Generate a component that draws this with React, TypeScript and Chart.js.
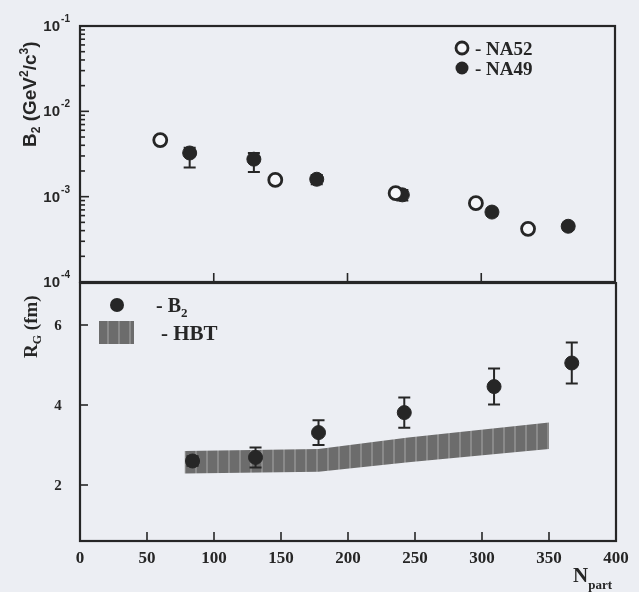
import React, { useEffect, useRef } from 'react';
import { Chart, registerables } from 'chart.js';

Chart.register(...registerables);

// ---------------- Data ----------------
// Top panel: B2 vs N_part (log scale)
const na52N = [60, 146, 236, 296, 335];
const na52B2 = [4.6e-3, 1.57e-3, 1.1e-3, 8.4e-4, 4.2e-4];
const na52ErrLow = [0.45e-3, 0.15e-3, 0.1e-3, 0.08e-3, 0.04e-3];
const na52ErrHigh = [0.45e-3, 0.15e-3, 0.1e-3, 0.08e-3, 0.04e-3];

const na49N = [82, 130, 177, 241, 308, 365];
const na49B2 = [3.25e-3, 2.75e-3, 1.6e-3, 1.05e-3, 6.6e-4, 4.5e-4];
const na49ErrLow = [1.05e-3, 0.8e-3, 0.2e-3, 0.15e-3, 0.06e-3, 0.04e-3];
const na49ErrHigh = [0.5e-3, 0.5e-3, 0.2e-3, 0.15e-3, 0.06e-3, 0.04e-3];

// Bottom panel: R_G vs N_part
const rgN = [84, 131, 178, 242, 309, 367];
const rgVal = [2.6, 2.69, 3.31, 3.81, 4.46, 5.05];
const rgErr = [0.12, 0.25, 0.31, 0.38, 0.45, 0.51];

const hbtN = [78, 178, 245, 350];
const hbtLow = [2.29, 2.33, 2.57, 2.9];
const hbtHigh = [2.85, 2.9, 3.19, 3.56];

// Axis ticks
const topYTicks = [1e-4, 1e-3, 1e-2, 1e-1];
const topXTicks = [100, 200, 300];
const bottomYTicks = [2, 4, 6];
const bottomXTicks = [0, 50, 100, 150, 200, 250, 300, 350, 400];

// ---------------- Style ----------------
const SERIF = '"Liberation Serif", "Times New Roman", serif';
const SANS = '"Liberation Sans", Arial, sans-serif';
const INK = '#262626';
const BG = '#eceef3';

type Part = { t: string; size: number; dy?: number; font?: string; bold?: boolean };

function drawRich(ctx: CanvasRenderingContext2D, x: number, y: number, parts: Part[], align: 'left' | 'right' | 'center' = 'left') {
  ctx.save();
  ctx.textBaseline = 'alphabetic';
  ctx.textAlign = 'left';
  const fontOf = (p: Part) => `${p.bold === false ? '' : 'bold '}${p.size}px ${p.font || SERIF}`;
  const ws = parts.map((p) => {
    ctx.font = fontOf(p);
    return ctx.measureText(p.t).width;
  });
  const total = ws.reduce((a, b) => a + b, 0);
  let cx = align === 'left' ? x : align === 'right' ? x - total : x - total / 2;
  parts.forEach((p, i) => {
    ctx.font = fontOf(p);
    ctx.fillText(p.t, cx, y + (p.dy || 0));
    cx += ws[i];
  });
  ctx.restore();
}

const errorBarPlugin = {
  id: 'errorBars',
  beforeDatasetsDraw(chart: any) {
    const { ctx } = chart;
    const xs = chart.scales.x;
    const ys = chart.scales.y;
    chart.data.datasets.forEach((ds: any) => {
      if (!ds.errLow) return;
      ctx.save();
      ctx.strokeStyle = INK;
      ctx.lineWidth = 2;
      ds.data.forEach((p: any, j: number) => {
        const px = xs.getPixelForValue(p.x);
        const yLo = ys.getPixelForValue(p.y - ds.errLow[j]);
        const yHi = ys.getPixelForValue(p.y + ds.errHigh[j]);
        ctx.beginPath();
        ctx.moveTo(px, yLo);
        ctx.lineTo(px, yHi);
        ctx.moveTo(px - 6, yLo);
        ctx.lineTo(px + 6, yLo);
        ctx.moveTo(px - 6, yHi);
        ctx.lineTo(px + 6, yHi);
        ctx.stroke();
      });
      ctx.restore();
    });
  },
};

function makeHatch(ctx: CanvasRenderingContext2D) {
  const c = document.createElement('canvas');
  c.width = 11;
  c.height = 4;
  const g = c.getContext('2d')!;
  g.fillStyle = '#6c6c6c';
  g.fillRect(0, 0, 11, 4);
  g.fillStyle = '#8a8a8a';
  g.fillRect(8, 0, 2, 4);
  return ctx.createPattern(c, 'repeat')!;
}

const topPlugin = {
  id: 'topDecor',
  afterDatasetsDraw(chart: any) {
    const { ctx, chartArea } = chart;
    const { left, right, top, bottom } = chartArea;
    const xs = chart.scales.x;
    const ys = chart.scales.y;
    ctx.save();
    ctx.strokeStyle = INK;
    ctx.fillStyle = INK;
    // frame
    ctx.lineWidth = 2.2;
    ctx.strokeRect(left, top, right - left, bottom - top);
    // log ticks (inward)
    ctx.lineWidth = 1.6;
    for (let d = 0; d < topYTicks.length; d++) {
      const dec = topYTicks[d];
      const kmax = d === topYTicks.length - 1 ? 1 : 9;
      for (let k = 1; k <= kmax; k++) {
        const py = ys.getPixelForValue(k * dec);
        const len = k === 1 ? 9 : 5;
        ctx.beginPath();
        ctx.moveTo(left, py);
        ctx.lineTo(left + len, py);
        ctx.stroke();
      }
    }
    topXTicks.forEach((v) => {
      const px = xs.getPixelForValue(v);
      ctx.beginPath();
      ctx.moveTo(px, bottom);
      ctx.lineTo(px, bottom - 9);
      ctx.stroke();
    });
    // y tick labels 10^n
    topYTicks.forEach((v) => {
      const py = ys.getPixelForValue(v);
      const e = Math.round(Math.log10(v));
      drawRich(ctx, left - 10, py + 5, [
        { t: '10', size: 15, font: SANS },
        { t: ' ', size: 4, font: SANS },
        { t: String(e), size: 10, dy: -9, font: SANS },
      ], 'right');
    });
    // y axis title (rotated)
    ctx.save();
    ctx.translate(left - 44, top + 121);
    ctx.rotate(-Math.PI / 2);
    drawRich(ctx, 0, 0, [
      { t: 'B', size: 19, font: SANS },
      { t: '2', size: 12, dy: 4, font: SANS },
      { t: ' (GeV', size: 19, font: SANS },
      { t: '2', size: 12, dy: -8, font: SANS },
      { t: '/c', size: 19, font: SANS },
      { t: '3', size: 12, dy: -8, font: SANS },
      { t: ')', size: 19, font: SANS },
    ]);
    ctx.restore();
    // legend
    const lx = right - 153;
    ctx.lineWidth = 2.8;
    ctx.beginPath();
    ctx.arc(lx, top + 22, 6, 0, Math.PI * 2);
    ctx.fillStyle = '#f5f6f9';
    ctx.fill();
    ctx.stroke();
    ctx.fillStyle = INK;
    ctx.beginPath();
    ctx.arc(lx, top + 42, 6.5, 0, Math.PI * 2);
    ctx.fill();
    drawRich(ctx, lx + 13, top + 29, [{ t: '- NA52', size: 19 }]);
    drawRich(ctx, lx + 13, top + 49, [{ t: '- NA49', size: 19 }]);
    ctx.restore();
  },
};

const bottomPlugin = {
  id: 'bottomDecor',
  afterDatasetsDraw(chart: any) {
    const { ctx, chartArea } = chart;
    const { left, right, top, bottom } = chartArea;
    const xs = chart.scales.x;
    const ys = chart.scales.y;
    ctx.save();
    ctx.strokeStyle = INK;
    ctx.fillStyle = INK;
    ctx.lineWidth = 2.2;
    ctx.strokeRect(left, top, right - left, bottom - top);
    ctx.lineWidth = 1.6;
    bottomYTicks.forEach((v) => {
      const py = ys.getPixelForValue(v);
      ctx.beginPath();
      ctx.moveTo(left, py);
      ctx.lineTo(left + 8, py);
      ctx.stroke();
      drawRich(ctx, left - 22, py + 5, [{ t: String(v), size: 15 }], 'center');
    });
    bottomXTicks.slice(1, -1).forEach((v) => {
      const px = xs.getPixelForValue(v);
      ctx.beginPath();
      ctx.moveTo(px, bottom);
      ctx.lineTo(px, bottom - 9);
      ctx.stroke();
    });
    // y title
    ctx.save();
    ctx.translate(left - 43, top + 75);
    ctx.rotate(-Math.PI / 2);
    drawRich(ctx, 0, 0, [
      { t: 'R', size: 19 },
      { t: 'G', size: 12, dy: 4 },
      { t: ' (fm)', size: 19 },
    ]);
    ctx.restore();
    // x title
    drawRich(ctx, right - 43, bottom + 41, [
      { t: 'N', size: 21 },
      { t: 'part', size: 13, dy: 7 },
    ]);
    // legend
    ctx.beginPath();
    ctx.arc(left + 37, top + 22, 7, 0, Math.PI * 2);
    ctx.fill();
    drawRich(ctx, left + 76, top + 29, [
      { t: '- B', size: 20 },
      { t: '2', size: 13, dy: 5 },
    ]);
    ctx.fillStyle = makeHatch(ctx);
    ctx.fillRect(left + 19, top + 38, 35, 23);
    ctx.fillStyle = INK;
    drawRich(ctx, left + 81, top + 57, [{ t: '- HBT', size: 21 }]);
    ctx.restore();
  },
};

export default function App() {
  const topRef = useRef<HTMLCanvasElement>(null);
  const botRef = useRef<HTMLCanvasElement>(null);

  useEffect(() => {
    const topCanvas = topRef.current!;
    const botCanvas = botRef.current!;

    const topChart = new Chart(topCanvas, {
      type: 'line',
      data: {
        datasets: [
          {
            label: 'NA52',
            data: na52N.map((x, i) => ({ x, y: na52B2[i] })),
            showLine: false,
            pointRadius: 6.5,
            pointBorderWidth: 2.8,
            pointBackgroundColor: '#f5f6f9',
            pointBorderColor: INK,
            errLow: na52ErrLow,
            errHigh: na52ErrHigh,
          } as any,
          {
            label: 'NA49',
            data: na49N.map((x, i) => ({ x, y: na49B2[i] })),
            showLine: false,
            pointRadius: 7,
            pointBorderWidth: 1,
            pointBackgroundColor: INK,
            pointBorderColor: INK,
            errLow: na49ErrLow,
            errHigh: na49ErrHigh,
          } as any,
        ],
      },
      options: {
        animation: false,
        responsive: false,
        maintainAspectRatio: false,
        layout: { autoPadding: false, padding: { top: 26, right: 24, left: 0, bottom: 0 } },
        plugins: { legend: { display: false }, tooltip: { enabled: false } },
        scales: {
          x: {
            type: 'linear',
            min: 0,
            max: 400,
            grid: { display: false },
            border: { display: false },
            ticks: { display: false },
            afterFit: (s: any) => {
              s.height = 10;
            },
          },
          y: {
            type: 'logarithmic',
            min: 1e-4,
            max: 1e-1,
            grid: { display: false },
            border: { display: false },
            ticks: { display: false },
            afterBuildTicks: (s: any) => {
              s.ticks = topYTicks.map((v) => ({ value: v }));
            },
            afterFit: (s: any) => {
              s.width = 80;
            },
          },
        },
      } as any,
      plugins: [errorBarPlugin, topPlugin],
    });

    const hatch = makeHatch(botCanvas.getContext('2d')!);

    const botChart = new Chart(botCanvas, {
      type: 'line',
      data: {
        datasets: [
          {
            label: 'B2',
            data: rgN.map((x, i) => ({ x, y: rgVal[i] })),
            showLine: false,
            pointRadius: 7,
            pointBorderWidth: 1,
            pointBackgroundColor: INK,
            pointBorderColor: INK,
            errLow: rgErr,
            errHigh: rgErr,
          } as any,
          {
            label: 'HBT low',
            data: hbtN.map((x, i) => ({ x, y: hbtLow[i] })),
            pointRadius: 0,
            borderWidth: 0,
            borderColor: 'rgba(0,0,0,0)',
            fill: false,
            tension: 0,
          },
          {
            label: 'HBT',
            data: hbtN.map((x, i) => ({ x, y: hbtHigh[i] })),
            pointRadius: 0,
            borderWidth: 0,
            borderColor: 'rgba(0,0,0,0)',
            backgroundColor: hatch,
            fill: 1,
            tension: 0,
          },
        ],
      },
      options: {
        animation: false,
        responsive: false,
        maintainAspectRatio: false,
        layout: { autoPadding: false, padding: { top: 1, right: 23, left: 0, bottom: 0 } },
        plugins: {
          legend: { display: false },
          tooltip: { enabled: false },
          filler: { drawTime: 'beforeDatasetsDraw' },
        },
        scales: {
          x: {
            type: 'linear',
            min: 0,
            max: 400,
            grid: { display: false, drawTicks: false },
            border: { display: false },
            ticks: {
              autoSkip: false,
              maxRotation: 0,
              padding: 7,
              color: INK,
              font: { family: SERIF, size: 17, weight: 'bold' },
            },
            afterBuildTicks: (s: any) => {
              s.ticks = bottomXTicks.map((v) => ({ value: v }));
            },
            afterFit: (s: any) => {
              s.height = 51;
            },
          },
          y: {
            type: 'linear',
            min: 0.6,
            max: 7.05,
            grid: { display: false, drawTicks: false },
            border: { display: false },
            ticks: { display: false },
            afterBuildTicks: (s: any) => {
              s.ticks = bottomYTicks.map((v) => ({ value: v }));
            },
            afterFit: (s: any) => {
              s.width = 80;
            },
          },
        },
      } as any,
      plugins: [errorBarPlugin, bottomPlugin],
    });

    return () => {
      topChart.destroy();
      botChart.destroy();
    };
  }, []);

  return (
    <div
      style={{
        position: 'absolute',
        left: 0,
        top: 0,
        width: 639,
        height: 592,
        background: BG,
        overflow: 'hidden',
      }}
    >
      <canvas
        ref={topRef}
        width={639}
        height={292}
        style={{ position: 'absolute', left: 0, top: 0, width: 639, height: 292, display: 'block' }}
      />
      <canvas
        ref={botRef}
        width={639}
        height={310}
        style={{ position: 'absolute', left: 0, top: 282, width: 639, height: 310, display: 'block' }}
      />
    </div>
  );
}
